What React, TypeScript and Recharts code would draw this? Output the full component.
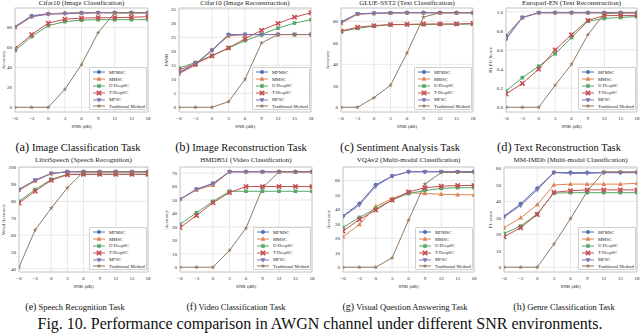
import React from "react";
import { LineChart, Line, XAxis, YAxis, CartesianGrid, ReferenceArea } from "recharts";

const snr = [-6, -3, 0, 3, 6, 9, 12, 15, 18];
const methods = ["MFMSC", "MMSC", "U-DeepSC", "T-DeepSC", "MFSC", "Traditional Method"];
const COLORS = ["#4c72b0", "#dd8452", "#55a868", "#c44e52", "#8172b3", "#937860"];
const MARKERS = ["circle", "triUp", "square", "x", "triDown", "star"];

// one row per method, same order as `methods`
const cifarCls = [
  [81, 92, 94, 94.5, 95, 95, 95, 95, 95],
  [80, 91, 94, 94.5, 95, 95, 95, 95, 95],
  [57, 71, 82, 86, 87.5, 88, 88, 88, 88],
  [59, 73, 84.5, 88.5, 89.5, 90, 90, 90.5, 91],
  [81, 91, 93.5, 94, 94.5, 95, 95, 95, 95],
  [0, 0, 0, 18, 43, 75, 95, 95, 95],
];
const cifarRec = [
  [12.5, 15.5, 20.5, 26, 26, 26, 26, 26, 26],
  [12, 15, 20.5, 25.5, 26, 26, 26, 26, 26],
  [14, 16, 18.5, 21.2, 23.8, 26, 28.3, 30.1, 31.3],
  [13.3, 15.6, 18.3, 21.2, 24.5, 27.5, 30, 32.2, 33.8],
  [12.2, 15.5, 20.3, 25.8, 26, 26, 26, 26, 26],
  [0, 0, 0, 2, 10, 23, 26, 26, 26],
];
const sst2 = [
  [79, 87, 87.5, 87.8, 88, 88, 88, 88, 88],
  [78, 86.5, 87.3, 87.6, 88, 88, 88, 88, 88],
  [70.5, 73.5, 75.5, 76.8, 77, 77, 77.3, 77.3, 77.5],
  [71, 74.5, 76, 77, 77.2, 77.5, 77.5, 77.5, 78],
  [79.5, 87, 87.5, 87.8, 88, 88, 88, 88, 88],
  [0, 0, 9, 20.5, 50.5, 84, 88, 88, 88],
];
const europarl = [
  [0.75, 0.94, 0.99, 0.99, 0.99, 0.99, 0.99, 0.99, 0.99],
  [0.72, 0.94, 0.99, 0.99, 0.99, 0.99, 0.99, 0.99, 0.99],
  [0.17, 0.31, 0.43, 0.56, 0.73, 0.9, 0.93, 0.94, 0.95],
  [0.14, 0.25, 0.4, 0.6, 0.76, 0.91, 0.96, 0.96, 0.96],
  [0.71, 0.94, 0.99, 0.99, 0.99, 0.99, 0.99, 0.99, 0.99],
  [0, 0, 0, 0.23, 0.45, 0.76, 0.98, 0.99, 0.99],
];
const libri = [
  [87, 92.5, 96.5, 97.5, 97.5, 97.5, 97.5, 97.5, 97.5],
  [86.5, 92, 96.5, 97.5, 97.5, 97.5, 97.5, 97.5, 97.5],
  [80, 87, 93, 96, 96, 96, 96, 96, 96],
  [79, 86, 92.5, 95.8, 96, 96, 96, 96, 96],
  [87, 92.5, 96.5, 97.5, 97.5, 97.5, 97.5, 97.5, 97.5],
  [41, 63, 76, 88, 97.5, 97.5, 97.5, 97.5, 97.5],
];
const hmdb = [
  [50.5, 58, 62, 71, 71, 71, 71, 71, 71],
  [50.5, 57.5, 61, 71, 71, 71, 71, 71, 71],
  [32, 40.5, 49, 56.5, 56.5, 56.5, 56.5, 56.5, 56.5],
  [29.5, 38.5, 48, 55.5, 60, 60, 60, 60, 60],
  [50.5, 58, 62.5, 71, 71, 71, 71, 71, 71],
  [0, 0, 0, 12.5, 29, 59, 71, 71, 71],
];
const vqa = [
  [35.5, 44, 57, 63, 66, 66, 66, 66, 66],
  [21, 29.5, 42, 47.5, 51.5, 51, 50.5, 50.2, 50],
  [27.5, 34.5, 40.5, 46.5, 51, 53, 54.5, 55, 55],
  [25, 33, 39.5, 46.5, 52, 55, 56, 56.5, 56.5],
  [35, 43, 56, 63, 66, 66, 66, 66, 66],
  [0, 0, 0, 6.5, 32.5, 57.5, 65.5, 65.5, 65.5],
];
const imdb = [
  [31, 38.5, 48, 57.5, 57.5, 57.5, 57.5, 57.5, 57.5],
  [24, 30, 38, 50, 50.5, 50.5, 50.5, 50.5, 51],
  [20.5, 25, 32.5, 45, 45.3, 45.3, 45.3, 45.3, 45.3],
  [18.5, 24, 32, 45.5, 46.5, 47, 47, 47, 47],
  [30.5, 37.5, 47, 57.5, 57, 57, 57.5, 57.5, 57.5],
  [0, 0, 0, 14, 29.5, 46, 58, 58, 58],
];

const ticks0to80 = [0, 20, 40, 60, 80];
const ticksPsnr = [0, 5, 10, 15, 20, 25, 30, 35];
const ticksBleu = [0, 0.2, 0.4, 0.6, 0.8, 1.0];
const ticksWord = [40, 50, 60, 70, 80, 90, 100];
const ticks0to70 = [0, 10, 20, 30, 40, 50, 60, 70];
const ticks0to60 = [0, 10, 20, 30, 40, 50, 60];

const panels = [
  { title: "Cifar10 (Image Classification)", ylabel: "Accuracy", values: cifarCls, ticks: ticks0to80, x: 0, y: 0, left: 15, right: 148, ylx: 3, cap: "(a)", capText: "Image Classification Task", capX: 78 },
  { title: "Cifar10 (Image Reconstruction)", ylabel: "PSNR", values: cifarRec, ticks: ticksPsnr, x: 160, y: 0, left: 19, right: 151, ylx: 6, cap: "(b)", capText: "Image Reconstruction Task", capX: 241 },
  { title: "GLUE-SST2 (Text Classification)", ylabel: "Accuracy", values: sst2, ticks: ticks0to80, x: 320, y: 0, left: 21, right: 153, ylx: 7, cap: "(c)", capText: "Sentiment Analysis Task", capX: 400 },
  { title: "Europarl-EN (Text Reconstruction)", ylabel: "BLEU Score", values: europarl, ticks: ticksBleu, x: 480, y: 0, left: 26, right: 157, ylx: 10, cap: "(d)", capText: "Text Reconstruction Task", capX: 559, fmt: 1 },
  { title: "LibriSpeech (Speech Recognition)", ylabel: "Word Accuracy", values: libri, ticks: ticksWord, x: 0, y: 160, left: 19, right: 148, ylx: 3, cap: "(e)", capText: "Speech Recognition Task", capX: 75 },
  { title: "HMDB51 (Video Classification)", ylabel: "Accuracy", values: hmdb, ticks: ticks0to70, x: 160, y: 160, left: 20, right: 152, ylx: 6, cap: "(f)", capText: "Video Classification Task", capX: 236 },
  { title: "VQAv2 (Multi-modal Classification)", ylabel: "Accuracy", values: vqa, ticks: ticks0to60, x: 320, y: 160, left: 23, right: 154, ylx: 8, cap: "(g)", capText: "Visual Question Answering Task", capX: 405 },
  { title: "MM-IMDb (Multi-modal Classification)", ylabel: "F1-score", values: imdb, ticks: ticks0to60, x: 480, y: 160, left: 24, right: 157, ylx: 10, cap: "(h)", capText: "Genre Classification Task", capX: 564 },
];

const FONT = "'Liberation Serif', 'Times New Roman', serif";
const minus = (v: number) => String(v).replace("-", "\u2212");

function Marker({ cx, cy, shape, color }: any) {
  if (cx == null || cy == null) return null;
  const s = 2.2;
  switch (shape) {
    case "circle":
      return <circle cx={cx} cy={cy} r={2} fill={color} />;
    case "triUp":
      return <polygon points={`${cx},${cy - s * 1.2} ${cx - s * 1.1},${cy + s * 0.8} ${cx + s * 1.1},${cy + s * 0.8}`} fill={color} />;
    case "triDown":
      return <polygon points={`${cx},${cy + s * 1.2} ${cx - s * 1.1},${cy - s * 0.8} ${cx + s * 1.1},${cy - s * 0.8}`} fill={color} />;
    case "square":
      return <rect x={cx - 1.8} y={cy - 1.8} width={3.6} height={3.6} fill={color} />;
    case "x":
      return (
        <g stroke={color} strokeWidth={1.6} strokeLinecap="square">
          <line x1={cx - 1.6} y1={cy - 1.6} x2={cx + 1.6} y2={cy + 1.6} />
          <line x1={cx - 1.6} y1={cy + 1.6} x2={cx + 1.6} y2={cy - 1.6} />
        </g>
      );
    default: {
      // thin star
      const pts: string[] = [];
      for (let i = 0; i < 10; i++) {
        const r = i % 2 === 0 ? 2.6 : 0.9;
        const a = -Math.PI / 2 + (i * Math.PI) / 5;
        pts.push(`${cx + r * Math.cos(a)},${cy + r * Math.sin(a)}`);
      }
      return <polygon points={pts.join(" ")} fill={color} />;
    }
  }
}

function LegendBox({ left, top }: { left: number; top: number }) {
  return (
    <div
      style={{
        position: "absolute",
        left,
        top,
        width: 58,
        height: 43,
        boxSizing: "border-box",
        background: "rgba(255,255,255,0.9)",
        border: "0.6px solid #d0d0d0",
        borderRadius: 1,
        paddingTop: 1,
        fontFamily: FONT,
        fontSize: 4.6,
        color: "#222",
      }}
    >
      {methods.map((m, k) => (
        <div key={m} style={{ height: 6.8, display: "flex", alignItems: "center" }}>
          <svg width={16} height={6} style={{ marginLeft: 2, flex: "none" }}>
            <line x1={1} y1={3} x2={13} y2={3} stroke={COLORS[k]} strokeWidth={1} />
            <Marker cx={7} cy={3} shape={MARKERS[k]} color={COLORS[k]} />
          </svg>
          <span style={{ marginLeft: 1, whiteSpace: "nowrap" }}>{m}</span>
        </div>
      ))}
    </div>
  );
}

function Panel({ p }: { p: any }) {
  const data = snr.map((x, i) => {
    const row: any = { snr: x };
    p.values.forEach((v: number[], k: number) => (row["s" + k] = v[i]));
    return row;
  });
  const all = p.values.flat();
  const lo = Math.min(...all);
  const hi = Math.max(...all);
  const pad = (hi - lo) * 0.05;
  const domain = [lo - pad, hi + pad];
  const top = p.y === 0 ? 8 : 7;
  const tickStyle = { fontSize: 5, fill: "#222", fontFamily: FONT };
  return (
    <div style={{ position: "absolute", left: p.x, top: p.y, width: 160, height: 140 }}>
      <div
        style={{
          position: "absolute",
          left: p.left,
          width: p.right - p.left,
          top: p.y === 0 ? -1 : -4,
          textAlign: "center",
          fontFamily: FONT,
          fontSize: 7,
          lineHeight: "8px",
          color: "#222",
          whiteSpace: "nowrap",
        }}
      >
        {p.title}
      </div>
      <LineChart width={160} height={135} data={data} margin={{ top, right: 160 - p.right, left: 0, bottom: 3 }}>
        <CartesianGrid stroke="#e2e2e2" strokeWidth={0.8} />
        <XAxis
          type="number"
          dataKey="snr"
          domain={[-6, 18]}
          ticks={snr}
          allowDataOverflow
          axisLine={false}
          tickLine={false}
          tickSize={3}
          tickMargin={1}
          height={20}
          tick={tickStyle}
          tickFormatter={minus}
          label={{ value: "SNR (dB)", position: "insideBottom", offset: 4, fontSize: 5, fill: "#222", fontFamily: FONT }}
        />
        <YAxis
          type="number"
          domain={domain}
          ticks={p.ticks}
          allowDataOverflow
          width={p.left}
          axisLine={false}
          tickLine={false}
          tickSize={2}
          tickMargin={1}
          tick={tickStyle}
          tickFormatter={(v: number) => (p.fmt ? v.toFixed(1) : String(v))}
          label={{
            value: p.ylabel,
            angle: -90,
            position: "insideLeft",
            offset: p.ylx,
            fontSize: 5,
            fill: "#222",
            fontFamily: FONT,
            style: { textAnchor: "middle" },
          }}
        />
        <ReferenceArea x1={-6} x2={18} y1={domain[0]} y2={domain[1]} fill="none" stroke="#c4c4c4" strokeWidth={0.8} ifOverflow="visible" />
        {methods.map((m, k) => (
          <Line
            key={m}
            type="linear"
            dataKey={"s" + k}
            stroke={COLORS[k]}
            strokeWidth={1}
            isAnimationActive={false}
            dot={(props: any) => <Marker key={props.index} cx={props.cx} cy={props.cy} shape={MARKERS[k]} color={COLORS[k]} />}
            activeDot={false}
          />
        ))}
      </LineChart>
      <LegendBox left={p.right - 59} top={112 - 45} />
    </div>
  );
}

export default function App() {
  return (
    <div style={{ position: "absolute", left: 0, top: 0, width: 640, height: 333, overflow: "hidden", background: "#fff", fontFamily: FONT }}>
      {panels.map((p) => (
        <Panel key={p.title} p={p} />
      ))}
      {panels.map((p, i) => {
        const row1 = i < 4;
        return (
          <div
            key={p.cap}
            style={{
              position: "absolute",
              left: p.capX - 90,
              width: 180,
              top: row1 ? 140 : 300,
              textAlign: "center",
              whiteSpace: "nowrap",
              color: "#111",
              lineHeight: "14px",
              fontSize: row1 ? 10.5 : 8.5,
            }}
          >
            <span style={{ fontSize: row1 ? 12.5 : 10 }}>{p.cap}</span> {p.capText}
          </div>
        );
      })}
      <div
        style={{
          position: "absolute",
          left: 0,
          width: 640,
          top: 315,
          textAlign: "center",
          fontSize: 16,
          lineHeight: "17px",
          color: "#111",
          whiteSpace: "nowrap",
        }}
      >
        Fig. 10. Performance comparison in AWGN channel under different SNR environments.
      </div>
    </div>
  );
}
